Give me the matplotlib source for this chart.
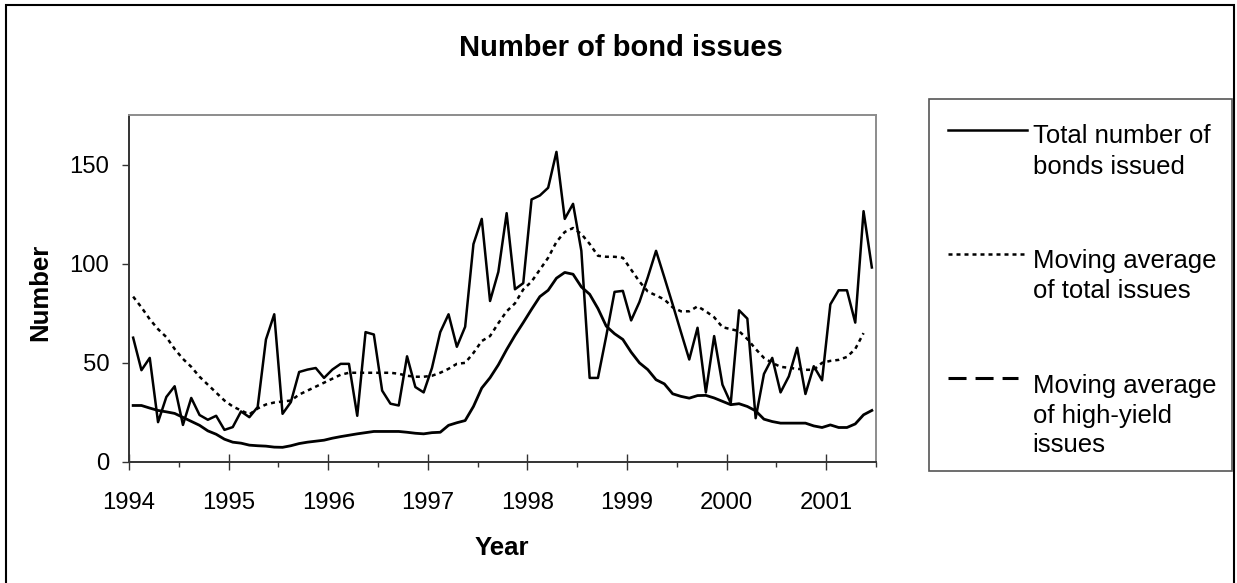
import numpy as np
import matplotlib.pyplot as plt
from matplotlib.lines import Line2D
from matplotlib.patches import Rectangle
from matplotlib.ticker import MultipleLocator

plt.rcParams['font.family'] = ['Liberation Sans', 'DejaVu Sans']

# monthly data, Jan 1994 - Jun 2001
start_year = 1994
n_months = 90

total = [62.7, 46.3, 52.5, 20.1, 32.8, 38.2, 18.7, 32.3, 23.7, 21.3,
         23.3, 16.2, 17.6, 25.5, 22.6, 27.7, 61.8, 74.5, 24.3, 30.2,
         45.4, 46.6, 47.4, 42.4, 46.6, 49.5, 49.5, 23.3, 65.5, 64.3,
         36.0, 29.4, 28.5, 53.3, 37.8, 35.1, 47.4, 65.5, 74.5, 58.1,
         68.2, 109.9, 122.6, 81.2, 95.9, 125.5, 87.1, 90.2, 132.4, 134.4,
         138.3, 156.4, 122.6, 130.2, 106.5, 42.4, 42.4, 63.5, 85.8, 86.3,
         71.4, 80.7, 93.1, 106.5, 93.1, 79.5, 65.5, 51.7, 67.7, 35.1,
         63.5, 39.0, 29.7, 76.5, 72.3, 22.1, 44.4, 52.5, 35.1, 43.2,
         57.6, 34.3, 48.3, 41.2, 79.5, 86.6, 86.6, 70.3, 126.5, 98.1]

ma_total = [83.4, 78, 72, 67, 63, 57, 52, 48, 43, 39,
            35, 31, 28, 26, 24, 27, 29, 30, 30.5, 31,
            34, 36, 38, 40, 42, 44, 45, 45, 45, 45,
            45, 45, 44.5, 43.5, 43, 43, 43.5, 45, 47, 49.5,
            50, 55, 61, 63.5, 70, 76, 80, 87, 91, 97,
            103, 111, 116, 118, 115, 110, 104, 103.5, 103.5, 103,
            97, 91, 86, 84, 82, 78, 76, 76, 78.5, 76,
            73, 68, 67, 66, 62, 57, 52.5, 50, 48, 47.5,
            47, 46.5, 46.5, 50, 51, 51.5, 53, 57, 65]

ma_hy = [28.5, 28.5, 27.2, 26.0, 25.3, 24.5, 22.5, 20.5, 18.5, 15.7,
         14.0, 11.5, 10.0, 9.5, 8.5, 8.2, 8.0, 7.5, 7.4, 8.2,
         9.3, 10.0, 10.5, 11.0, 12.0, 12.8, 13.5, 14.2, 14.8, 15.4,
         15.4, 15.4, 15.4, 15.0, 14.5, 14.2, 14.8, 15.0, 18.5, 19.8,
         20.9, 28.0, 37.3, 42.5, 49.0, 56.7, 63.8, 70.3, 77.0, 83.4,
         86.6, 92.7, 95.6, 94.7, 88.3, 84.6, 77.4, 68.5, 64.7, 61.8,
         55.4, 50.0, 46.6, 41.5, 39.4, 34.4, 33.1, 32.2, 33.5, 33.6,
         32.3, 30.6, 28.9, 29.4, 28.0, 25.8, 21.6, 20.4, 19.6, 19.6,
         19.6, 19.6, 18.2, 17.4, 18.7, 17.4, 17.4, 19.2, 23.8, 26.0]

labels = [['Total number of', 'bonds issued'],
          ['Moving average', 'of total issues'],
          ['Moving average', 'of high-yield', 'issues']]

years = start_year + (np.arange(n_months) + 0.5) / 12

W, H = 1237, 583
fig = plt.figure(figsize=(W / 100, H / 100), dpi=100)


def fx(x):
    return x / W


def fy(y):
    return 1 - y / H


ax = fig.add_axes([fx(129), fy(462), (876 - 129) / W, (462 - 115) / H])

ax.plot(years, total, color='black', lw=1.8)
ax.plot(years[:len(ma_total)], ma_total, color='black', lw=1.8,
        ls=(0, (1.6, 1.6)))
ax.plot(years, ma_hy, color='black', lw=2.0)

ax.set_xlim(1994, 2001.5)
ax.set_ylim(0, 175)
ax.set_yticks([0, 50, 100, 150])
ax.xaxis.set_major_locator(MultipleLocator(1))
ax.xaxis.set_minor_locator(MultipleLocator(0.5))
ax.xaxis.set_major_formatter(lambda v, p: f'{int(v)}')

ax.tick_params(axis='x', which='major', direction='inout', length=11.5,
               width=1, labelsize=17.2, pad=16, color='#333333')
ax.tick_params(axis='x', which='minor', direction='out', length=3.6,
               width=1, color='#333333')
ax.tick_params(axis='y', direction='out', length=4.8, width=1,
               labelsize=17.2, pad=9.5, color='#333333')

for s in ['left', 'bottom']:
    ax.spines[s].set_color('#333333')
    ax.spines[s].set_linewidth(1.4)
for s in ['top', 'right']:
    ax.spines[s].set_color('#8c8c8c')
    ax.spines[s].set_linewidth(1.4)

fig.text(fx(620.5), fy(48), 'Number of bond issues', ha='center',
         va='center', fontsize=21, weight='bold')
fig.text(fx(501.5), fy(548), 'Year', ha='center', va='center',
         fontsize=18.5, weight='bold')
fig.text(fx(40.7), fy(292), 'Number', ha='center', va='center',
         fontsize=18.5, weight='bold', rotation=90)

# legend box
fig.add_artist(Rectangle((fx(929), fy(471)), (1231.7 - 929) / W,
                         (471 - 99) / H, transform=fig.transFigure,
                         facecolor='none', edgecolor='#555555', lw=1.2))

handles = [dict(ls='-', lw=1.8, x1=1026.7, y=130),
           dict(ls=(0, (1.6, 1.6)), lw=1.8, x1=1026.7, y=254.3),
           dict(ls=(0, (5.9, 2.95)), lw=2.2, x1=1018.3, y=377.7)]
baselines = [[143.3, 174.3], [268.3, 298], [393.3, 423.3, 452.3]]
for h, lab, bl in zip(handles, labels, baselines):
    fig.add_artist(Line2D([fx(947.7), fx(h['x1'])], [fy(h['y'])] * 2,
                          transform=fig.transFigure, color='black',
                          lw=h['lw'], ls=h['ls']))
    for line, b in zip(lab, bl):
        fig.text(fx(1032.7), fy(b), line, ha='left', va='baseline',
                 fontsize=18.5)

# outer chart frame
fig.add_artist(Rectangle((fx(6), fy(600)), (1234 - 6) / W, (600 - 5) / H,
                         transform=fig.transFigure, facecolor='none',
                         edgecolor='black', lw=1.5))

fig.savefig('out.png', dpi=100)
